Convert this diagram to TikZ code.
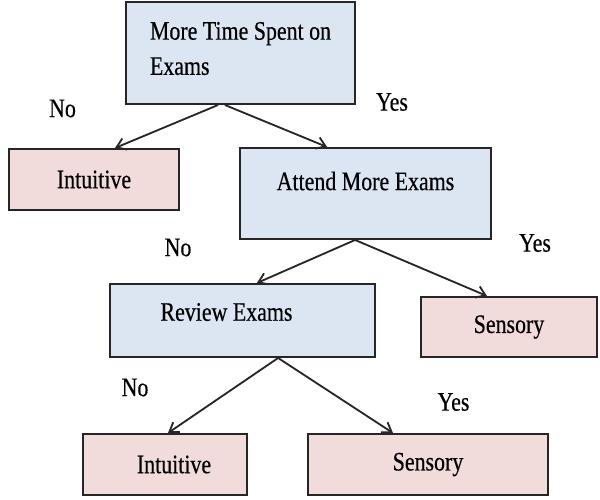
\documentclass[tikz,border=0pt]{standalone}
\usepackage{fontspec}
\setmainfont{Liberation Serif}[FakeStretch=0.82, FakeBold=0.4]
\usetikzlibrary{positioning,arrows.meta}
\definecolor{qblue}{HTML}{DCE6F2}
\definecolor{apink}{HTML}{F2DCDB}
\tikzset{
    question/.style = {draw=black!85, fill=qblue, rectangle, line width=1.4pt},
    answer/.style   = {draw=black!85, fill=apink, rectangle, line width=1.4pt},
    branch/.style   = {inner sep=0pt},
    link/.style     = {->, line width=1.3pt, black!85}
}

\begin{document}
\begin{tikzpicture}[>={Straight Barb[length=2.2mm,width=3mm]}, font=\fontsize{19}{25}\selectfont]
    \useasboundingbox (0,0) rectangle (15,-12.5);
    % decision boxes
    \node [question, minimum width=5.725cm, minimum height=2.55cm, align=left, text depth=0.23cm]
                                    (exams)   at (6.0125,-1.325)  {More Time Spent on\\Exams};
    \node [answer, minimum width=4.25cm, minimum height=1.525cm]
                                    (intu1)   at (2.35,-4.4875)   {Intuitive};
    \node [question, minimum width=6.275cm, minimum height=2.275cm, text depth=0.63cm]
                                    (attend)  at (9.1375,-4.8375) {Attend More Exams};
    \node [question, minimum width=6.625cm, minimum height=1.825cm, text depth=0.43cm]
                                    (review)  at (6.0625,-8.0125) {Review Exams\hspace*{0.8cm}};
    \node [answer, minimum width=4.4cm, minimum height=1.5cm]
                                    (sens1)   at (12.725,-8.175)  {Sensory};
    \node [answer, minimum width=4.1cm, minimum height=1.525cm]
                                    (intu2)   at (4.125,-11.6125) {\hspace*{0.45cm}Intuitive};
    \node [answer, minimum width=6cm, minimum height=1.525cm]
                                    (sens2)   at (10.7,-11.6125)  {Sensory};

    % branch labels
    \node [branch] (no1)  at (1.5625,-2.7125) {No};
    \node [branch] (yes1) at (9.8,-2.55)      {Yes};
    \node [branch] (no2)  at (4.45,-6.1875)   {No};
    \node [branch] (yes2) at (13.375,-6.075)  {Yes};
    \node [branch] (no3)  at (3.375,-9.6875)  {No};
    \node [branch] (yes3) at (11.3375,-10.05) {Yes};

    \draw [link] ([xshift=-0.56cm]exams.south)  -- ([xshift=0.525cm]intu1.north);
    \draw [link] ([xshift=-0.39cm]exams.south)  -- ([xshift=-0.96cm]attend.north);
    \draw [link] ([xshift=-0.26cm]attend.south) -- ([xshift=0.36cm]review.north);
    \draw [link] ([xshift=-0.26cm]attend.south) -- ([xshift=-0.55cm]sens1.north);
    \draw [link] ([xshift=0.89cm]review.south)  -- ([xshift=0.075cm]intu2.north);
    \draw [link] ([xshift=0.89cm]review.south)  -- ([xshift=-0.875cm]sens2.north);
\end{tikzpicture}
\end{document}
